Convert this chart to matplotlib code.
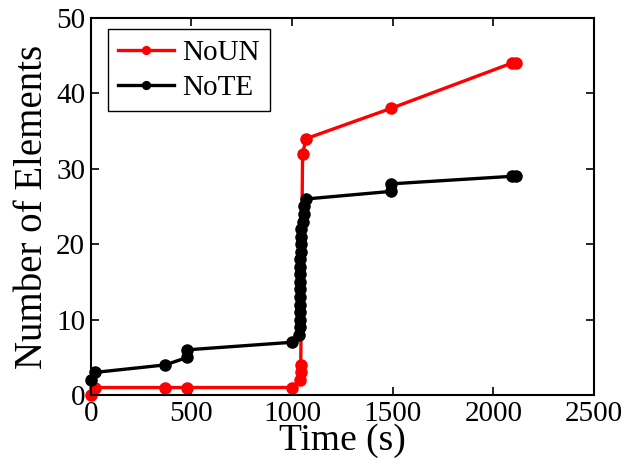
import matplotlib
matplotlib.use('Agg')
import matplotlib.pyplot as plt

plt.rcParams['font.family'] = ['Liberation Serif', 'DejaVu Serif']
plt.rcParams['mathtext.fontset'] = 'stix'

# NoUN (red)
noun_t = [0, 20, 370, 480, 1000, 1040, 1042, 1043, 1052, 1070, 1490, 2090, 2110]
noun_n = [0, 1, 1, 1, 1, 2, 3, 4, 32, 34, 38, 44, 44]

# NoTE (black)
note_t = [0, 20, 370, 480, 480, 1000,
          1036, 1037, 1037, 1038, 1038, 1039, 1039, 1040, 1040, 1041, 1041, 1042, 1043, 1044, 1045,
          1052, 1057, 1060, 1070, 1490, 1490, 2090, 2110]
note_n = [2, 3, 4, 5, 6, 7,
          8, 9, 10, 11, 12, 13, 14, 15, 16, 17, 18, 19, 20, 21, 22,
          23, 24, 25, 26, 27, 28, 29, 29]

fig = plt.figure(figsize=(6.26, 4.72), dpi=100)
ax = fig.add_axes([0.145, 0.163, 0.804, 0.799])

ax.plot(noun_t, noun_n, '-o', color='red', lw=2.4, ms=8, label='NoUN', clip_on=False, zorder=3)
ax.plot(note_t, note_n, '-o', color='black', lw=2.4, ms=8, label='NoTE', clip_on=False, zorder=4)

ax.set_xlim(0, 2500)
ax.set_ylim(0, 50)
ax.set_xticks([0, 500, 1000, 1500, 2000, 2500])
ax.set_yticks([0, 10, 20, 30, 40, 50])
ax.tick_params(direction='in', top=True, right=True, labelsize=21, width=1.2, length=6, pad=4)
for s in ax.spines.values():
    s.set_linewidth(1.5)
    s.set_zorder(5)

ax.set_xlabel('Time (s)', fontsize=27, labelpad=-2)
ax.set_ylabel('Number of Elements', fontsize=28, labelpad=4)

leg = ax.legend(loc='upper left', bbox_to_anchor=(0.034, 0.97), fontsize=21,
                fancybox=False, framealpha=1, edgecolor='black',
                handlelength=1.9, markerscale=0.7, borderaxespad=0,
                handletextpad=0.3, labelspacing=0.3, borderpad=0.35)
leg.get_frame().set_linewidth(1.0)
leg.set_zorder(6)

fig.savefig('out.png', dpi=100)
